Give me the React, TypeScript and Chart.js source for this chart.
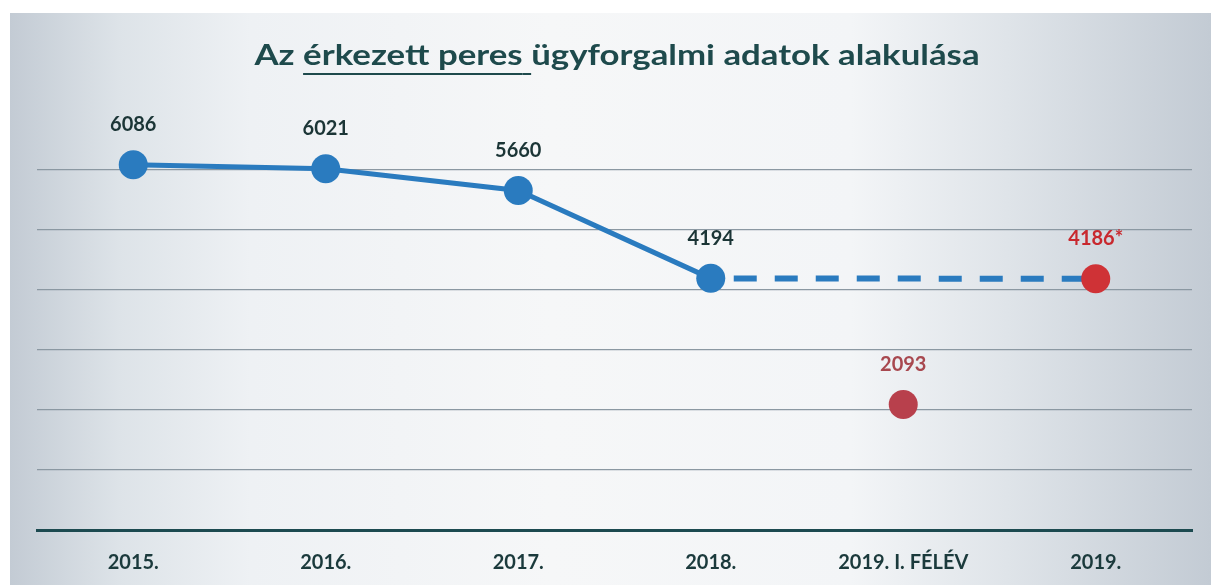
import React, { useEffect, useRef } from "react";
import { Chart, registerables } from "chart.js";

Chart.register(...registerables);

const categories = ["2015.", "2016.", "2017.", "2018.", "2019. I. FÉLÉV", "2019."];
const actualValues = [6086, 6021, 5660, 4194, null, null];
const projectionValues = [null, null, null, 4194, null, 4186];
const values2019 = [null, null, null, null, 2093, 4186];
const actualLabels = ["6086", "6021", "5660", "4194", "", ""];
const labels2019 = ["", "", "", "", "2093", "4186*"];
const yMin = 0;
const yMax = 7000;
const yStep = 1000;

const BLUE = "#2a7bbf";
const TEXT_DARK = "#1b3536";
const FONT = "Lato, 'Open Sans', sans-serif";

const dataLabelPlugin = {
  id: "dataLabels",
  afterDatasetsDraw(chart: any) {
    const ctx = chart.ctx;
    chart.data.datasets.forEach((ds: any, i: number) => {
      const labels: string[] | undefined = ds.valueLabels;
      if (!labels) return;
      const meta = chart.getDatasetMeta(i);
      meta.data.forEach((pt: any, j: number) => {
        const txt = labels[j];
        if (!txt || ds.data[j] == null) return;
        ctx.save();
        ctx.font = `bold 20px ${FONT}`;
        ctx.fillStyle = Array.isArray(ds.labelColors) ? ds.labelColors[j] : TEXT_DARK;
        ctx.textAlign = "center";
        ctx.textBaseline = "middle";
        ctx.fillText(txt, pt.x, pt.y - 40);
        ctx.restore();
      });
    });
  },
};

export default function App() {
  const canvasRef = useRef<HTMLCanvasElement | null>(null);

  useEffect(() => {
    if (!canvasRef.current) return;
    const chart = new Chart(canvasRef.current, {
      type: "line",
      data: {
        labels: categories,
        datasets: [
          {
            label: "2019",
            data: values2019,
            showLine: false,
            pointRadius: 14.5,
            pointHoverRadius: 14.5,
            pointBackgroundColor: ["#000", "#000", "#000", "#000", "#b8404c", "#cf3236"],
            pointBorderWidth: 0,
            order: 0,
            valueLabels: labels2019,
            labelColors: ["", "", "", "", "#a8484f", "#c8282e"],
          } as any,
          {
            label: "Érkezett",
            data: actualValues,
            borderColor: BLUE,
            borderWidth: 5,
            tension: 0,
            pointRadius: 14.5,
            pointHoverRadius: 14.5,
            pointBackgroundColor: BLUE,
            pointBorderWidth: 0,
            order: 1,
            valueLabels: actualLabels,
            labelColors: [TEXT_DARK, TEXT_DARK, TEXT_DARK, TEXT_DARK, TEXT_DARK, TEXT_DARK],
          } as any,
          {
            label: "Várható",
            data: projectionValues,
            borderColor: BLUE,
            borderWidth: 6,
            borderDash: [23, 18],
            borderDashOffset: 18,
            spanGaps: true,
            pointRadius: 0,
            order: 2,
          } as any,
        ],
      },
      options: {
        responsive: false,
        animation: false,
        devicePixelRatio: 1,
        layout: { padding: { left: 37, right: 19, top: 110, bottom: 0 } },
        plugins: {
          legend: { display: false },
          title: { display: false },
          tooltip: { enabled: false },
        },
        scales: {
          x: {
            type: "category",
            offset: true,
            grid: { display: false, drawTicks: false },
            border: { display: true, color: "#1c4a50", width: 3 },
            ticks: {
              padding: 21,
              color: "#1b3a3c",
              font: { family: FONT, size: 20, weight: "bold" },
            },
            afterFit: (scale: any) => {
              scale.height = 55;
            },
          },
          y: {
            min: yMin,
            max: yMax,
            ticks: { display: false, stepSize: yStep },
            border: { display: false },
            grid: {
              drawTicks: false,
              lineWidth: 1.2,
              color: (c: any) =>
                c.tick && (c.tick.value === yMax || c.tick.value === yMin)
                  ? "rgba(0,0,0,0)"
                  : "#8b98a2",
            },
          },
        },
      },
      plugins: [dataLabelPlugin],
    });
    return () => chart.destroy();
  }, []);

  return (
    <div
      style={{
        position: "fixed",
        left: 0,
        top: 0,
        width: 1211,
        height: 585,
        background: "#ffffff",
        overflow: "hidden",
      }}
    >
      <div
        style={{
          position: "absolute",
          left: 10,
          top: 13,
          right: 0,
          bottom: 0,
          background:
            "linear-gradient(to right, #c3cbd4 0%, #dde3e8 9%, #eef1f4 20%, #f6f7f8 45%, #f3f5f7 70%, #dfe4e9 83%, #c3cbd4 100%)",
        }}
      />
      <canvas
        ref={canvasRef}
        width={1211}
        height={585}
        style={{ position: "absolute", left: 0, top: 0 }}
      />
      <div
        style={{
          position: "absolute",
          left: 617,
          top: 36,
          transform: "translateX(-50%) scaleX(1.2)",
          transformOrigin: "center",
          whiteSpace: "nowrap",
          fontFamily: FONT,
          fontSize: 29,
          fontWeight: "bold",
          lineHeight: "36px",
          color: "#1e4a4c",
        }}
      >
        Az{" "}
        <span
          style={{
            textDecoration: "underline",
            textDecorationThickness: "2px",
            textUnderlineOffset: "8px",
          }}
        >
          érkezett peres{"\u00a0"}
        </span>
        ügyforgalmi adatok alakulása
      </div>
    </div>
  );
}
